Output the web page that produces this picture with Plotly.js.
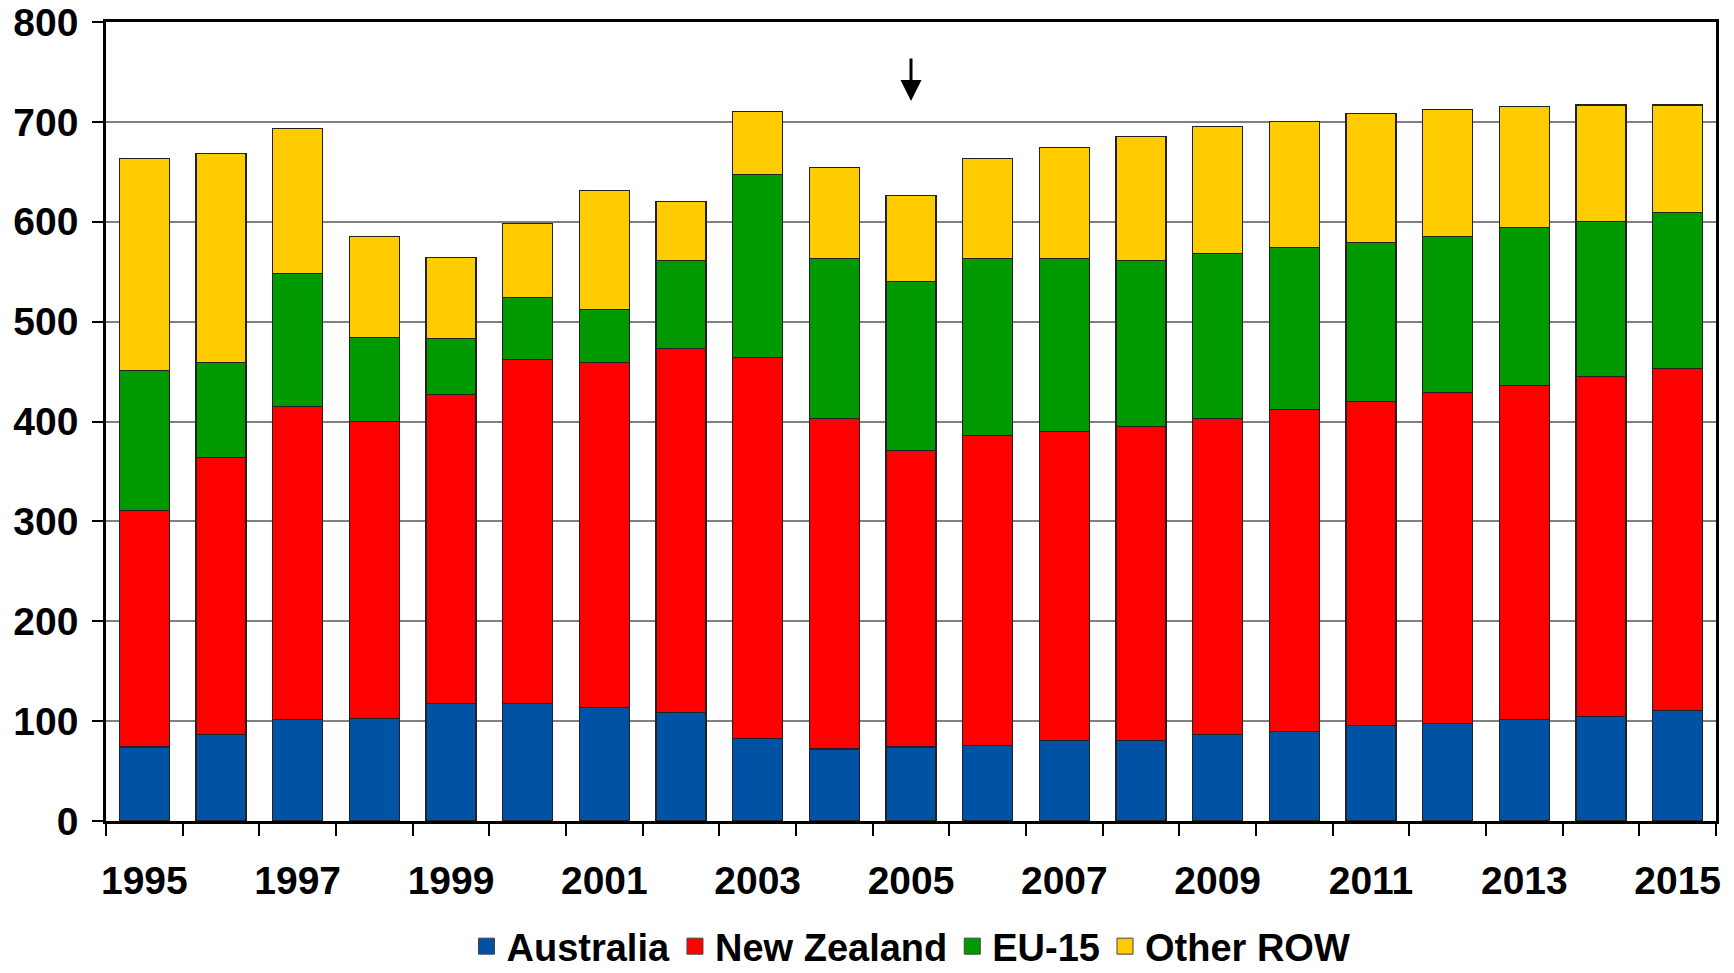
<!DOCTYPE html>
<html>
<head>
<meta charset="utf-8">
<script src="https://cdn.plot.ly/plotly-3.0.1.min.js"></script>
<style>html,body{margin:0;padding:0;background:#fff;}#chart{width:1734px;height:973px;}</style>
</head>
<body>
<div id="chart"></div>
<script>
const years = ['1995','1996','1997','1998','1999','2000','2001','2002','2003','2004','2005','2006','2007','2008','2009','2010','2011','2012','2013','2014','2015'];
const tickLabels = years.map((y, i) => (i % 2 === 0 ? y : ''));
const australia  = [74, 87, 102, 103, 118, 118, 114, 109, 83, 72, 74, 76, 81, 81, 87, 90, 96, 98, 102, 105, 111];
const newZealand = [237, 277, 313, 297, 309, 344, 345, 364, 381, 331, 297, 310, 309, 314, 316, 322, 324, 331, 334, 340, 342];
const eu15       = [140, 95, 133, 84, 56, 62, 53, 88, 183, 160, 169, 177, 173, 166, 165, 162, 159, 156, 158, 155, 156];
const otherROW   = [212, 209, 145, 101, 81, 74, 119, 59, 63, 91, 86, 100, 111, 124, 127, 126, 129, 127, 121, 117, 108];
const seriesNames = ['Australia', 'New Zealand', 'EU-15', 'Other ROW'];
const arrowYear = '2005';
const arrowTip = 721;
const arrowTail = 765;

const colors = ['#0052A5', '#FF0000', '#009900', '#FFCC00'];
const FONT = {family: 'Liberation Sans, Arial, sans-serif', size: 39, color: '#000', weight: 'bold'};
const LFONT = {family: 'Liberation Sans, Arial, sans-serif', size: 38, color: '#000', weight: 'bold'};
const bars = [australia, newZealand, eu15, otherROW].map((vals, i) => ({
  type: 'bar', x: years, y: vals, name: seriesNames[i], showlegend: false,
  marker: {color: colors[i], line: {color: '#222', width: 1.2}},
  hoverinfo: 'x+y+name'
}));
const legendItems = seriesNames.map((n, i) => ({
  type: 'scatter', mode: 'markers', x: [null], y: [null], name: n,
  marker: {symbol: 'square', size: 22, color: colors[i], line: {color: '#444', width: 1}}
}));
const arrowIdx = years.indexOf(arrowYear);

const layout = {
  width: 1734, height: 973,
  barmode: 'stack', bargap: 0.35,
  margin: {l: 106, r: 18, t: 22, b: 152, autoexpand: false},
  paper_bgcolor: '#fff', plot_bgcolor: '#fff',
  font: FONT,
  showlegend: true,
  legend: {orientation: 'h', x: 0.5, xanchor: 'center', y: -0.157, yanchor: 'middle',
           font: LFONT, traceorder: 'normal', itemwidth: 30},
  xaxis: {type: 'category', range: [-0.5, years.length - 0.5], tickmode: 'array', tickvals: years, ticktext: tickLabels,
          tickangle: 0, automargin: false,
          tickson: 'boundaries', ticks: 'outside', ticklen: 12, tickwidth: 2, tickcolor: '#000',
          showline: true, linecolor: '#000', linewidth: 2.5, mirror: true,
          showgrid: false, tickfont: FONT, ticklabelstandoff: 23},
  yaxis: {range: [0, 800], dtick: 100, tick0: 0, ticks: 'outside', ticklen: 11, tickwidth: 2, tickcolor: '#000',
          showline: true, linecolor: '#000', linewidth: 2.5, mirror: true, automargin: false,
          showgrid: true, gridcolor: '#808080', gridwidth: 1.5, zeroline: false,
          tickfont: FONT, ticklabelstandoff: 6},
  annotations: [{x: arrowIdx, y: arrowTip, ax: arrowIdx, ay: arrowTail, axref: 'x', ayref: 'y',
                 xref: 'x', yref: 'y', text: '', showarrow: true, arrowhead: 2, arrowsize: 1.4,
                 arrowwidth: 3, arrowcolor: '#000'}]
};
Plotly.newPlot('chart', bars.concat(legendItems), layout, {displayModeBar: false});
</script>
</body>
</html>
